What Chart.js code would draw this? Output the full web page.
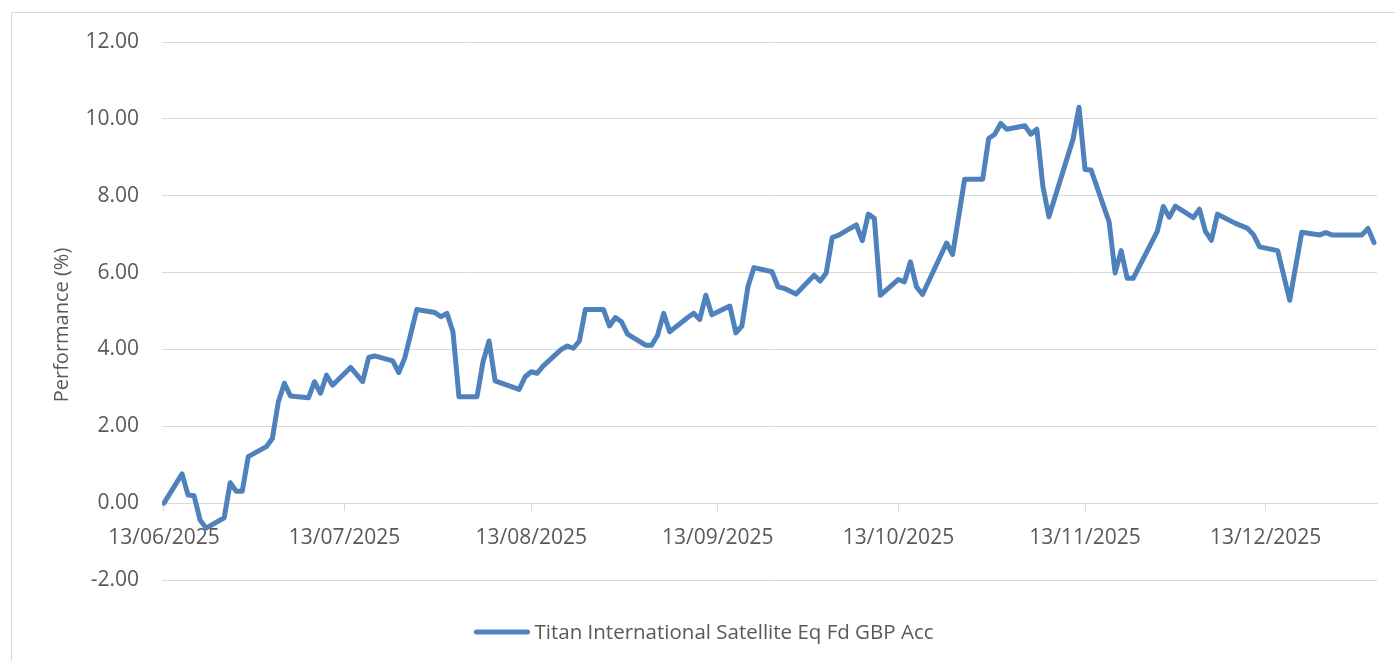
<!DOCTYPE html>
<html>
<head>
<meta charset="utf-8">
<title>Titan International Satellite Eq Fd GBP Acc – Performance</title>
<script src="https://cdn.jsdelivr.net/npm/chart.js@4.4.1/dist/chart.umd.min.js"></script>
<style>
  html, body { margin: 0; padding: 0; background: #ffffff; overflow: hidden; }
  #wrap { position: relative; width: 1395px; height: 661px; }
  canvas { display: block; }
</style>
</head>
<body>
<div id="wrap"><canvas id="perf" width="1395" height="661"></canvas></div>
<script>
// ---- data ----
const seriesName = 'Titan International Satellite Eq Fd GBP Acc';
const axisTitle = 'Performance (%)';

const dates = [
  '13/06/2025','16/06/2025','17/06/2025','18/06/2025','19/06/2025','20/06/2025',
  '23/06/2025','24/06/2025','25/06/2025','26/06/2025','27/06/2025',
  '30/06/2025','01/07/2025','02/07/2025','03/07/2025','04/07/2025',
  '07/07/2025','08/07/2025','09/07/2025','10/07/2025','11/07/2025',
  '14/07/2025','16/07/2025','17/07/2025','18/07/2025',
  '21/07/2025','22/07/2025','23/07/2025','25/07/2025',
  '28/07/2025','29/07/2025','30/07/2025','31/07/2025','01/08/2025',
  '04/08/2025','05/08/2025','06/08/2025','07/08/2025',
  '11/08/2025','12/08/2025','13/08/2025','14/08/2025','15/08/2025',
  '18/08/2025','19/08/2025','20/08/2025','21/08/2025','22/08/2025',
  '25/08/2025','26/08/2025','27/08/2025','28/08/2025','29/08/2025',
  '01/09/2025','02/09/2025','03/09/2025','04/09/2025','05/09/2025',
  '08/09/2025','09/09/2025','10/09/2025','11/09/2025','12/09/2025',
  '15/09/2025','16/09/2025','17/09/2025','18/09/2025','19/09/2025',
  '22/09/2025','23/09/2025','24/09/2025','26/09/2025',
  '29/09/2025','30/09/2025','01/10/2025','02/10/2025','03/10/2025',
  '06/10/2025','07/10/2025','08/10/2025','09/10/2025','10/10/2025',
  '13/10/2025','14/10/2025','15/10/2025','16/10/2025','17/10/2025',
  '21/10/2025','22/10/2025','24/10/2025',
  '27/10/2025','28/10/2025','29/10/2025','30/10/2025','31/10/2025',
  '03/11/2025','04/11/2025','05/11/2025','06/11/2025','07/11/2025',
  '11/11/2025','12/11/2025','13/11/2025','14/11/2025',
  '17/11/2025','18/11/2025','19/11/2025','20/11/2025','21/11/2025',
  '25/11/2025','26/11/2025','27/11/2025','28/11/2025',
  '01/12/2025','02/12/2025','03/12/2025','04/12/2025','05/12/2025',
  '08/12/2025','10/12/2025','11/12/2025','12/12/2025',
  '15/12/2025','17/12/2025','19/12/2025',
  '22/12/2025','23/12/2025','24/12/2025',
  '29/12/2025','30/12/2025','31/12/2025'
];

const performance = [
  0.00, 0.76, 0.21, 0.19, -0.44, -0.65,
  -0.38, 0.53, 0.31, 0.31, 1.21,
  1.47, 1.68, 2.64, 3.12, 2.79,
  2.74, 3.16, 2.86, 3.33, 3.07,
  3.53, 3.16, 3.79, 3.83,
  3.70, 3.40, 3.78, 5.04,
  4.96, 4.85, 4.94, 4.46, 2.77,
  2.77, 3.68, 4.22, 3.18,
  2.96, 3.29, 3.42, 3.38, 3.57,
  4.00, 4.09, 4.03, 4.22, 5.04,
  5.04, 4.61, 4.83, 4.72, 4.40,
  4.11, 4.11, 4.37, 4.94, 4.46,
  4.83, 4.94, 4.78, 5.41, 4.90,
  5.13, 4.43, 4.61, 5.63, 6.13,
  6.02, 5.63, 5.59, 5.44,
  5.93, 5.78, 5.99, 6.91, 6.97,
  7.24, 6.83, 7.52, 7.41, 5.41,
  5.82, 5.76, 6.28, 5.63, 5.43,
  6.77, 6.47, 8.43,
  8.43, 9.49, 9.60, 9.88, 9.73,
  9.82, 9.60, 9.73, 8.24, 7.45,
  9.47, 10.30, 8.68, 8.67,
  7.32, 5.99, 6.57, 5.85, 5.85,
  7.07, 7.72, 7.44, 7.73,
  7.43, 7.65, 7.07, 6.84, 7.52,
  7.28, 7.15, 6.98, 6.67,
  6.57, 5.28, 7.05,
  6.98, 7.04, 6.98,
  6.98, 7.15, 6.78
];

const xTickLabels = ['13/06/2025','13/07/2025','13/08/2025','13/09/2025','13/10/2025','13/11/2025','13/12/2025'];
const yTicks = [-2, 0, 2, 4, 6, 8, 10, 12];

// ---- helpers ----
function dayNumber(s) {
  const [d, m, y] = s.split('/').map(Number);
  return Date.UTC(y, m - 1, d) / 86400000;
}
const origin = dayNumber(dates[0]);
const toX = s => dayNumber(s) - origin;

const points = dates.map((d, i) => ({ x: toX(d), y: performance[i] }));
const tickDays = xTickLabels.map(toX);

const TEXT = '#595959';
const GRID = '#d9d9d9';
const LINE = '#4f81bd';
const FONT = "'Open Sans', 'Liberation Sans', sans-serif";

// Outer frame, rotated axis title and legend entry
const decorations = {
  id: 'decorations',
  beforeDraw(chart) {
    const ctx = chart.ctx;
    ctx.save();
    ctx.strokeStyle = GRID;
    ctx.lineWidth = 1;
    ctx.strokeRect(11.5, 12.5, 3000, 3000);
    ctx.restore();
  },
  afterDraw(chart) {
    const ctx = chart.ctx;
    ctx.save();
    // y axis title
    ctx.fillStyle = TEXT;
    ctx.font = '20px ' + FONT;
    ctx.translate(62, 325);
    ctx.rotate(-Math.PI / 2);
    ctx.textAlign = 'center';
    ctx.textBaseline = 'middle';
    ctx.fillText(axisTitle, 0, 0);
    ctx.restore();

    // legend
    const ds = chart.data.datasets[0];
    ctx.save();
    ctx.font = '20.5px ' + FONT;
    const tw = ctx.measureText(ds.label).width;
    const sample = 51, gap = 7;
    const total = sample + gap + tw;
    const cx = 705, cy = 632;
    const x0 = cx - total / 2;
    ctx.strokeStyle = ds.borderColor;
    ctx.lineWidth = ds.borderWidth;
    ctx.lineCap = 'round';
    ctx.beginPath();
    ctx.moveTo(x0, cy);
    ctx.lineTo(x0 + sample, cy);
    ctx.stroke();
    ctx.fillStyle = TEXT;
    ctx.textAlign = 'left';
    ctx.textBaseline = 'middle';
    ctx.fillText(ds.label, x0 + sample + gap, cy + 1);
    ctx.restore();
  }
};

new Chart(document.getElementById('perf'), {
  type: 'line',
  data: {
    datasets: [{
      label: seriesName,
      data: points,
      borderColor: LINE,
      backgroundColor: LINE,
      borderWidth: 5,
      borderJoinStyle: 'round',
      borderCapStyle: 'round',
      pointRadius: 0,
      pointHoverRadius: 0,
      tension: 0,
      fill: false
    }]
  },
  options: {
    responsive: false,
    devicePixelRatio: 1,
    animation: false,
    events: [],
    layout: { padding: { top: 42, right: 18, bottom: 81, left: 0 } },
    plugins: {
      legend: { display: false },
      tooltip: { enabled: false },
      title: { display: false }
    },
    scales: {
      x: {
        type: 'linear',
        position: { y: 0 },
        // each day occupies a slot; the axis runs a third of a slot before the first date
        // and half a slot past the last one
        min: -0.33,
        max: points[points.length - 1].x + 0.5,
        afterBuildTicks(scale) {
          scale.ticks = tickDays.map(v => ({ value: v }));
        },
        ticks: {
          autoSkip: false,
          maxRotation: 0,
          color: TEXT,
          font: { family: FONT, size: 21 },
          padding: 15,
          callback(value) {
            const i = tickDays.indexOf(value);
            return i >= 0 ? xTickLabels[i] : '';
          }
        },
        grid: {
          drawOnChartArea: false,
          drawTicks: true,
          tickLength: 7,
          color: GRID,
          lineWidth: 1
        },
        border: { display: true, color: GRID, width: 1 }
      },
      y: {
        min: yTicks[0],
        max: yTicks[yTicks.length - 1],
        afterBuildTicks(scale) {
          scale.ticks = yTicks.map(v => ({ value: v }));
        },
        afterFit(scale) { scale.width = 162; },
        ticks: {
          color: TEXT,
          font: { family: FONT, size: 21 },
          padding: 23,
          callback: v => Number(v).toFixed(2)
        },
        grid: {
          color: GRID,
          lineWidth: 1,
          drawTicks: false
        },
        border: { display: false }
      }
    }
  },
  plugins: [decorations]
});
</script>
</body>
</html>
